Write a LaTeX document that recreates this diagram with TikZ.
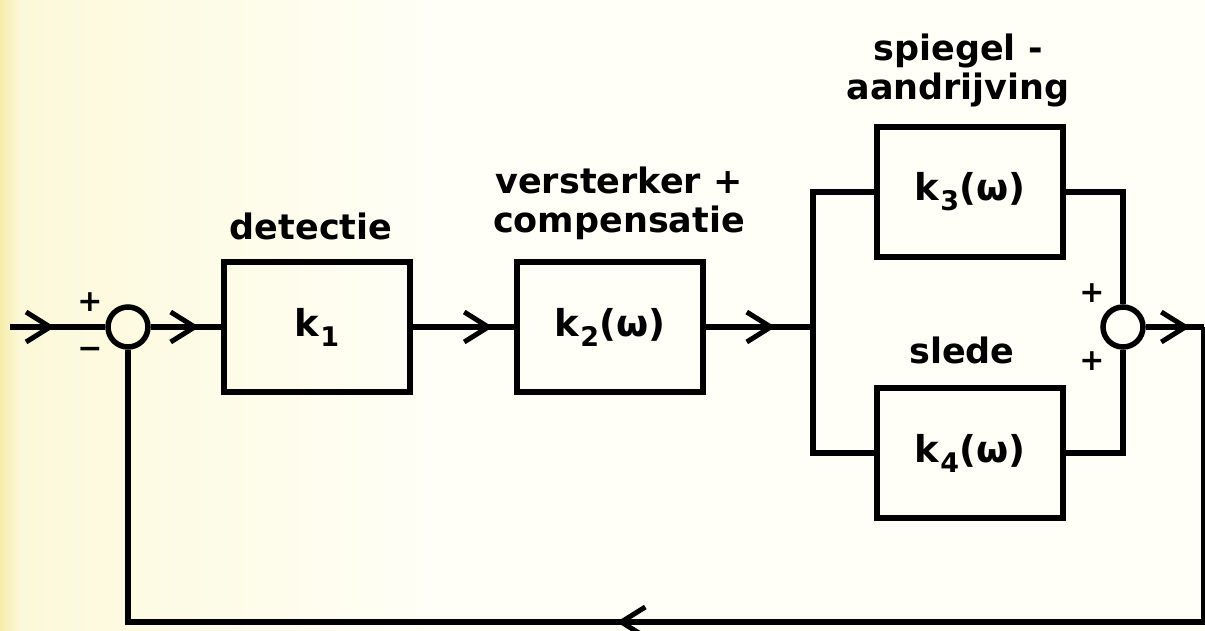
\documentclass[tikz,border=0pt]{standalone}
\usepackage{fontspec}
\setmainfont{DejaVu Sans}
\usetikzlibrary{arrows.meta, positioning, decorations.markings, calc}

\definecolor{geelA}{RGB}{246,236,170}
\definecolor{geelB}{RGB}{252,249,218}
\definecolor{papier}{RGB}{255,255,248}

\newcommand{\ksub}[1]{k\kern1pt\raisebox{-10pt}{\fontsize{27}{27}\selectfont #1}}

\begin{document}
\begin{tikzpicture}[x=1pt, y=-1pt, line width=5.5pt,
    blok/.style={draw, minimum width=186pt, minimum height=130pt, inner sep=0pt,
      font=\bfseries\fontsize{37}{40}\selectfont},
    som/.style={draw, circle, minimum size=40pt, inner sep=0pt},
    lbl/.style={font=\bfseries\fontsize{35}{39}\selectfont, align=center, inner sep=0pt},
    teken/.style={font=\bfseries\fontsize{30}{30}\selectfont, inner sep=0pt},
    pijl/.style={postaction={decorate, decoration={markings,
      mark=at position #1 with {\arrow{Straight Barb[length=24pt, width=30pt, line width=5pt]}}}}}]
  % achtergrond
  \useasboundingbox (0,0) rectangle (1205,631);
  \fill[left color=geelA, right color=geelB] (0,0) rectangle (20,631);
  \fill[left color=geelB, right color=papier] (20,0) rectangle (450,631);
  \fill[papier] (450,0) rectangle (1205,631);

  % blokken
  \node[som] (sL) at (128,327) {};
  \node[blok] (k1) at (317,327) {\ksub{1}};
  \node[blok] (k2) at (610,327) {\ksub{2}(ω)};
  \node[blok] (k3) at (970,192) {\ksub{3}(ω)};
  \node[blok] (k4) at (970,453) {\ksub{4}(ω)};
  \node[som] (sR) at (1123,327) {};

  \coordinate (in) at (10,327);
  \coordinate (tak) at (813,327);
  \coordinate (uit) at (1204,327);
  \coordinate (terug) at (1204,622);

  % teksten
  \node[lbl] (tdet) at (311,226) {detectie};
  \node[lbl] (tver) at (619,203) {versterker +\\compensatie};
  \node[lbl] (tspi) at (958,70) {spiegel -\\aandrijving};
  \node[lbl] (tsle) at (962,350) {slede};
  \node[teken] (pL) at (90,302) {+};
  \node[teken] (mL) at (90,353) {−};
  \node[teken] (pR1) at (1092,293) {+};
  \node[teken] (pR2) at (1092,361) {+};

  % verbindingen
  \draw[pijl=0.47] (in) -- (sL);
  \draw[pijl=0.69] (sL) -- (k1);
  \draw[pijl=0.79] (k1) -- (k2);
  \draw[pijl=0.65] (k2) -- (tak);
  \draw (tak) |- (k3);
  \draw (tak) |- (k4);
  \draw (k3) -| (sR);
  \draw (k4) -| (sR);
  \draw[pijl=0.76] (sR) -- (uit);
  \draw[pijl=0.537] (uit) -- (terug) -| (sL);
\end{tikzpicture}
\end{document}
